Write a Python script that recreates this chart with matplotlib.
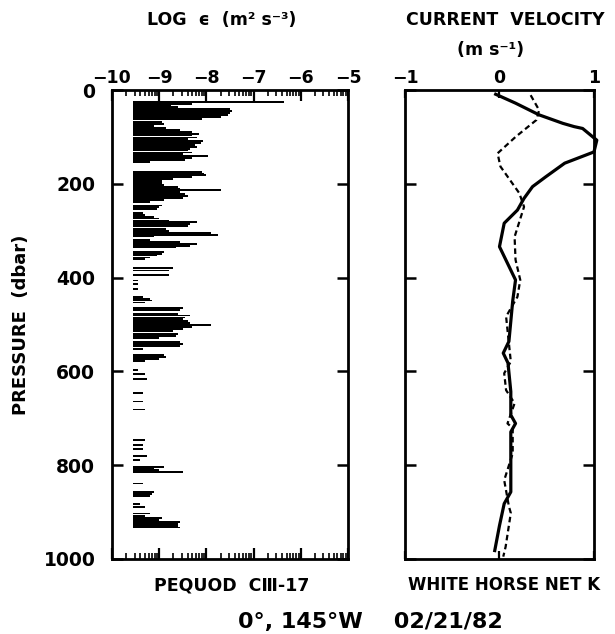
import numpy as np
import matplotlib
matplotlib.use("Agg")
import matplotlib.pyplot as plt
from matplotlib.ticker import FixedLocator

plt.rcParams['font.family'] = ['DejaVu Sans']
plt.rcParams['font.weight'] = 'bold'

# dissipation profile: pressure (dbar) and log10 epsilon
eps_p = [25, 29, 33, 37, 41, 45, 49, 53, 57, 61,
         69, 73, 77, 81, 85, 89, 93, 97, 101, 105, 109, 113, 117, 121,
         125, 129, 133, 137, 141, 145, 149, 153,
         174, 178, 182, 186, 190, 194, 198, 202, 206, 210, 214, 218,
         222, 226, 230, 234, 238, 246, 250, 254,
         262, 266, 270, 274, 278, 282, 286, 290,
         297, 301, 305, 309, 312, 320, 324, 328, 332, 336,
         345, 349, 353, 357, 361, 380, 385, 395, 406, 414, 424,
         441, 445, 449, 453, 465, 469,
         477, 481, 485, 489, 493, 497, 501, 505, 509, 513,
         521, 525, 529, 537, 541, 545, 553, 565, 569, 573, 577,
         597, 606, 617, 646, 664, 681,
         747, 757, 765, 780, 789, 803, 807, 811, 815,
         839, 857, 862, 866, 883, 889,
         903, 908, 913, 917, 921, 925, 929, 933]
eps_log = [-6.35, -8.3, -8.75, -8.6, -7.5, -7.45, -7.5, -7.55, -7.7, -8.1,
           -8.95, -8.9, -9.1, -8.85, -8.55, -8.3, -8.15, -8.3, -8.2, -8.4, -8.07, -8.12, -8.25, -8.2,
           -8.35, -8.4, -8.3, -8.5, -7.97, -8.3, -8.45, -9.2,
           -8.1, -8.05, -8.0, -8.3, -8.7, -8.95, -8.95, -8.9, -8.6, -8.55, -7.7, -8.55,
           -8.45, -8.4, -8.5, -8.9, -9.2, -8.95, -9.0, -9.05,
           -9.35, -9.3, -9.1, -9.0, -8.8, -8.2, -8.35, -8.4,
           -8.85, -8.8, -7.9, -7.75, -9.1, -9.2, -8.55, -8.2, -8.35, -8.65,
           -8.9, -8.95, -9.05, -9.2, -9.3, -8.7, -8.8, -8.8, -9.45, -9.45, -9.45,
           -9.35, -9.2, -9.15, -9.3, -8.5, -8.55,
           -8.6, -8.35, -8.45, -8.5, -8.4, -8.35, -7.9, -8.3, -8.5, -8.7,
           -8.6, -8.65, -9.0, -8.55, -8.5, -8.55, -9.35, -8.9, -8.85, -9.0, -9.3,
           -9.45, -9.3, -9.25, -9.35, -9.35, -9.3,
           -9.3, -9.35, -9.35, -9.25, -9.4, -8.9, -9.1, -9.0, -8.5,
           -9.35, -9.1, -9.15, -9.2, -9.4, -9.3,
           -9.2, -9.3, -8.95, -9.0, -8.55, -8.6, -8.6, -8.55]
eps_base = -9.55

# current velocity profiles (m/s)
u_p = [9, 28, 53, 71, 78, 82, 107, 132, 156, 185, 206, 231, 256, 284, 334,
       405, 450, 493, 536, 561, 582, 643, 693, 711, 729, 779, 857, 882, 929, 982]
u_v = [-0.04, 0.17, 0.42, 0.67, 0.79, 0.88, 1.03, 1.0, 0.69, 0.49, 0.35, 0.26, 0.19, 0.05, 0.0,
       0.17, 0.14, 0.12, 0.10, 0.04, 0.09, 0.12, 0.12, 0.17, 0.12, 0.12, 0.12, 0.05, 0.0, -0.05]
v_p = [11, 43, 64, 100, 135, 163, 220, 249, 313, 362, 405, 441, 483, 512, 579,
       604, 640, 668, 711, 721, 775, 832, 888, 902, 974, 995]
v_v = [0.33, 0.42, 0.39, 0.17, -0.02, 0.01, 0.21, 0.26, 0.16, 0.17, 0.22, 0.19, 0.07, 0.085, 0.12,
       0.05, 0.07, 0.16, 0.085, 0.14, 0.14, 0.05, 0.10, 0.12, 0.065, 0.04]

p_ticks = [0, 200, 400, 600, 800, 1000]
eps_ticks = [-10, -9, -8, -7, -6, -5]
vel_ticks = [-1, 0, 1]

fig = plt.figure(figsize=(6.15, 6.34), dpi=100)
ax1 = fig.add_axes([0.1821, 0.1183, 0.3837, 0.7397])
ax2 = fig.add_axes([0.6585, 0.1183, 0.3073, 0.7397])

for ax in (ax1, ax2):
    for s in ax.spines.values():
        s.set_linewidth(2.0)
    ax.set_ylim(1000, 0)
    ax.set_yticks(p_ticks)

# left panel: dissipation bars
ax1.barh(eps_p, np.array(eps_log) - eps_base, left=eps_base, height=3.8,
         color='black', linewidth=0)
ax1.set_xlim(-10, -5)
ax1.set_xticks(eps_ticks)
ax1.set_xticklabels(['\u221210', '\u22129', '\u22128', '\u22127', '\u22126', '\u22125'])
minor = [d + np.log10(k) for d in range(-10, -5) for k in range(2, 10)]
ax1.xaxis.set_minor_locator(FixedLocator(minor))
ax1.set_yticklabels([str(t) for t in p_ticks])

# right panel: current velocity
ax2.plot(u_v, u_p, color='black', lw=2.3, clip_on=False)
ax2.plot(v_v, v_p, color='black', lw=1.6, linestyle=(0, (2.5, 1.6)))
ax2.set_xlim(-1, 1)
ax2.set_xticks(vel_ticks)
ax2.set_xticklabels(['\u22121', '0', '1'])
ax2.set_yticklabels([])

for ax in (ax1, ax2):
    ax.xaxis.set_ticks_position('both')
    ax.yaxis.set_ticks_position('both')
    ax.tick_params(axis='y', which='major', direction='in', left=True, right=True,
                   length=8, width=1.8, labelsize=13.5, pad=12)
    ax.tick_params(axis='x', which='both', direction='in', top=True, bottom=True,
                   labeltop=True, labelbottom=False, labelsize=12.5, pad=2.5)
    ax.tick_params(axis='x', which='major', length=8, width=1.6)
ax1.tick_params(axis='x', which='minor', length=4.5, width=1.2, top=True, bottom=True)
ax2.tick_params(axis='x', which='major', length=6)

fig.text(0.361, 0.968, 'LOG  \u03f5  (m\u00b2 s\u207b\u00b3)', ha='center', va='center', fontsize=12.5)
fig.text(0.821, 0.968, 'CURRENT  VELOCITY', ha='center', va='center', fontsize=12.5)
fig.text(0.797, 0.921, '(m s\u207b\u00b9)', ha='center', va='center', fontsize=12.5)
fig.text(0.034, 0.487, 'PRESSURE  (dbar)', ha='center', va='center', fontsize=13, rotation=90)
fig.text(0.376, 0.077, 'PEQUOD  C\u2162-17', ha='center', va='center', fontsize=12.5)
fig.text(0.664, 0.077, 'WHITE HORSE NET K', ha='left', va='center', fontsize=12)
fig.text(0.603, 0.019, '0\u00b0, 145\u00b0W    02/21/82', ha='center', va='center', fontsize=16)

fig.savefig('out.png', dpi=100)
